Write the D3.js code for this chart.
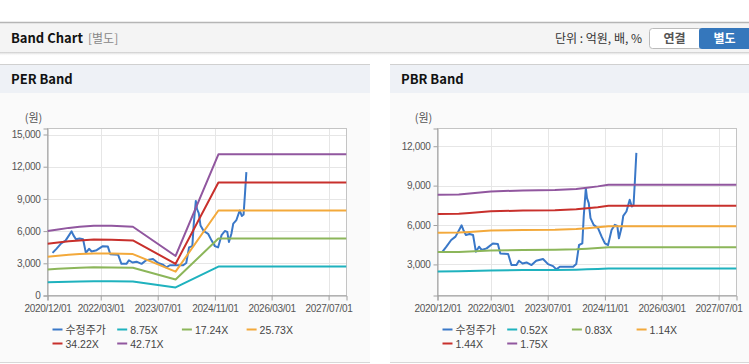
<!DOCTYPE html>
<html>
<head>
<meta charset="utf-8">
<script src="https://cdn.jsdelivr.net/npm/d3@7"></script>
<style>
    body { margin: 0; background: #fff; }
    svg { display: block; font-family: "Noto Sans CJK KR", "Noto Sans", sans-serif; }
    .tick-label { font-family: "Liberation Sans", Arial, sans-serif; font-size: 10px; fill: #555; }
</style>
</head>
<body>
<svg id="chart" width="749" height="364"></svg>
<script>
// x axis ticks, shared by both charts
const tickDates = ["2020-12-01", "2022-03-01", "2023-07-01", "2024-11-01", "2026-03-01", "2027-07-01"];
const xStart = "2020-12-01";
const xEnd = "2027-12-01";

// 수정주가 (adjusted price)
const priceDates = [
    "2021-01-13", "2021-02-15", "2021-03-28", "2021-05-04", "2021-06-04", "2021-06-25", "2021-07-10",
    "2021-08-01", "2021-09-01", "2021-10-01", "2021-10-25", "2021-11-21", "2021-12-13", "2022-01-25",
    "2022-03-19", "2022-05-01", "2022-05-22", "2022-07-28", "2022-08-25", "2022-10-07", "2022-10-28",
    "2022-11-28", "2023-01-01", "2023-02-13", "2023-03-25", "2023-05-22", "2023-07-04", "2023-08-16",
    "2023-09-13", "2023-10-13", "2023-12-07", "2024-02-04", "2024-03-01", "2024-03-25", "2024-04-22",
    "2024-05-04", "2024-05-22", "2024-06-01", "2024-06-16", "2024-07-01", "2024-07-28", "2024-09-04",
    "2024-10-04", "2024-11-01", "2024-11-28", "2024-12-28", "2025-01-25", "2025-02-15", "2025-03-01",
    "2025-03-22", "2025-04-07", "2025-05-04", "2025-06-01", "2025-06-19", "2025-07-04", "2025-07-16",
    "2025-07-28"
];
const priceValues = [
    3970, 4350, 4860, 5115, 5625, 5980, 5625,
    5245, 5320, 5245, 3970, 4350, 4100, 4220,
    4600, 4555, 3840, 3790, 2950, 2950, 3280,
    3075, 3150, 2950, 3280, 3410, 3025, 2870,
    2620, 2820, 2820, 2820, 3025, 4480, 4600,
    6650, 8810, 8050, 7670, 6520, 6010, 5750,
    5115, 4600, 4480, 5625, 6010, 5930, 4990,
    5750, 6700, 7030, 7920, 7410, 7540, 9450,
    11490
];

// PER band lines
const perDates = ["2020-12-01", "2021-03-01", "2021-06-01", "2021-09-01", "2022-01-01", "2022-06-01", "2022-12-01", "2023-12-01", "2024-12-01", "2027-12-01"];
const per875 = [1231, 1260, 1291, 1313, 1334, 1330, 1312, 754, 2694, 2694];
const per1724 = [2426, 2483, 2543, 2586, 2627, 2620, 2584, 1486, 5308, 5308];
const per2573 = [3620, 3705, 3795, 3860, 3921, 3911, 3857, 2218, 7922, 7922];
const per3422 = [4815, 4928, 5048, 5133, 5215, 5201, 5130, 2950, 10536, 10536];
const per4271 = [6009, 6150, 6300, 6407, 6509, 6492, 6402, 3682, 13150, 13150];
const perLabels = ["수정주가", "8.75X", "17.24X", "25.73X", "34.22X", "42.71X"];
const perTicks = [0, 3000, 6000, 9000, 12000, 15000];

// PBR band lines
const pbrDates = ["2020-12-01", "2021-06-01", "2021-09-01", "2022-03-01", "2022-12-01", "2023-09-01", "2024-03-01", "2024-06-01", "2024-09-01", "2024-12-01", "2027-12-01"];
const pbr052 = [2466, 2475, 2496, 2543, 2566, 2574, 2600, 2626, 2657, 2695, 2695];
const pbr083 = [3937, 3951, 3984, 4059, 4096, 4109, 4150, 4192, 4241, 4302, 4302];
const pbr114 = [5407, 5426, 5472, 5575, 5626, 5643, 5700, 5757, 5825, 5909, 5909];
const pbr144 = [6830, 6854, 6912, 7042, 7106, 7128, 7200, 7272, 7358, 7464, 7464];
const pbr175 = [8300, 8330, 8400, 8558, 8636, 8663, 8750, 8838, 8943, 9070, 9070];
const pbrLabels = ["수정주가", "0.52X", "0.83X", "1.14X", "1.44X", "1.75X"];
const pbrTicks = [3000, 6000, 9000, 12000];

const seriesColors = ["#3a78c8", "#1fb2be", "#8cb65a", "#f3a93b", "#c8302c", "#91579f"];

const parseDate = d3.timeParse("%Y-%m-%d");
const svg = d3.select("#chart");

function drawPage() {
    // top "Band Chart" bar
    const defs = svg.append("defs");
    const shadow = defs.append("linearGradient").attr("id", "shadow").attr("x1", 0).attr("x2", 0).attr("y1", 0).attr("y2", 1);
    shadow.append("stop").attr("offset", "0%").attr("stop-color", "#bbb").attr("stop-opacity", 0.8);
    shadow.append("stop").attr("offset", "100%").attr("stop-color", "#fff").attr("stop-opacity", 0);

    svg.append("rect").attr("x", 0).attr("y", 22).attr("width", 749).attr("height", 30).attr("fill", "#f4f4f4");
    svg.append("line").attr("x1", 0).attr("x2", 749).attr("y1", 22.5).attr("y2", 22.5).attr("stroke", "#b5b5b5").attr("stroke-width", 1.5);
    svg.append("rect").attr("x", 0).attr("y", 52).attr("width", 749).attr("height", 4).attr("fill", "url(#shadow)");

    svg.append("text").attr("x", 11).attr("y", 42.5)
        .style("font-size", "13px").style("font-weight", "bold").attr("fill", "#111")
        .text("Band Chart");
    svg.append("text").attr("x", 88).attr("y", 42.5)
        .style("font-size", "12px").attr("fill", "#888")
        .text("[별도]");
    svg.append("text").attr("x", 642).attr("y", 42.5).attr("text-anchor", "end")
        .style("font-size", "12px").attr("fill", "#333")
        .text("단위 : 억원, 배, %");

    // 연결 / 별도 toggle
    svg.append("rect").attr("x", 649.5).attr("y", 28.5).attr("width", 52).attr("height", 20).attr("rx", 3)
        .attr("fill", "#fff").attr("stroke", "#bbb");
    svg.append("text").attr("x", 674.5).attr("y", 42.5).attr("text-anchor", "middle")
        .style("font-size", "12px").style("font-weight", "bold").attr("fill", "#555")
        .text("연결");
    svg.append("rect").attr("x", 699).attr("y", 28).attr("width", 56).attr("height", 21).attr("rx", 3)
        .attr("fill", "#3577bc");
    svg.append("text").attr("x", 724.5).attr("y", 42.5).attr("text-anchor", "middle")
        .style("font-size", "12px").style("font-weight", "bold").attr("fill", "#fff")
        .text("별도");
}

function drawBandChart(opts) {
    // panel frame
    const g = svg.append("g");
    g.append("rect").attr("x", opts.panelX).attr("y", 64).attr("width", opts.panelW).attr("height", 299).attr("fill", "#fafafa");
    g.append("rect").attr("x", opts.panelX).attr("y", 64).attr("width", opts.panelW).attr("height", 29).attr("fill", "#eef1f6");
    g.append("line").attr("x1", opts.panelX).attr("x2", opts.panelX + opts.panelW).attr("y1", 64.5).attr("y2", 64.5).attr("stroke", "#d0d0d0");
    g.append("line").attr("x1", opts.panelX).attr("x2", opts.panelX + opts.panelW).attr("y1", 362.5).attr("y2", 362.5).attr("stroke", "#d8d8d8");
    g.append("text").attr("x", opts.panelX + 11).attr("y", 84)
        .style("font-size", "13px").style("font-weight", "bold").attr("fill", "#111")
        .text(opts.title);

    const left = opts.plotX, right = opts.plotX + 299, top = 128.5, bottom = 295.5;

    const x = d3.scaleTime()
        .domain([parseDate(xStart), parseDate(xEnd)])
        .range([left, right]);
    const y = d3.scaleLinear()
        .domain(opts.yDomain)
        .range([bottom, top]);

    g.append("rect").attr("x", left).attr("y", top).attr("width", right - left).attr("height", bottom - top).attr("fill", "#fff");

    // grid
    g.append("g").selectAll("line")
        .data(opts.yTicks.filter(d => d > opts.yDomain[0]))
        .enter().append("line")
        .attr("x1", left).attr("x2", right)
        .attr("y1", d => Math.round(y(d)) + 0.5).attr("y2", d => Math.round(y(d)) + 0.5)
        .attr("stroke", "#e6e6e6");
    g.append("g").selectAll("line")
        .data(tickDates.slice(1))
        .enter().append("line")
        .attr("x1", d => Math.round(x(parseDate(d))) + 0.5).attr("x2", d => Math.round(x(parseDate(d))) + 0.5)
        .attr("y1", top).attr("y2", bottom)
        .attr("stroke", "#e6e6e6");

    // frame
    g.append("rect").attr("x", left).attr("y", top).attr("width", right - left).attr("height", bottom - top)
        .attr("fill", "none").attr("stroke", "#c4c4c4");

    // axes
    const xAxis = d3.axisBottom(x)
        .tickValues(tickDates.map(parseDate))
        .tickFormat(d3.timeFormat("%Y/%m/%d"))
        .tickSize(5).tickPadding(4);
    const yAxis = d3.axisLeft(y)
        .tickValues(opts.yTicks)
        .tickFormat(d3.format(","))
        .tickSize(4).tickPadding(3);

    const gx = g.append("g").attr("transform", "translate(0," + bottom + ")").call(xAxis);
    const gy = g.append("g").attr("transform", "translate(" + left + ",0)").call(yAxis);
    [gx, gy].forEach(a => {
        a.select(".domain").attr("stroke", "#a0a0a0");
        a.selectAll(".tick line").attr("stroke", "#a0a0a0");
        a.selectAll(".tick text").attr("class", "tick-label").attr("fill", "#555").style("letter-spacing", "-0.3px");
    });

    g.append("text").attr("x", left - 14).attr("y", 122).attr("text-anchor", "middle")
        .style("font-size", "11px").attr("fill", "#555")
        .text("(원)");

    // series lines: price first, bands drawn on top
    const line = d3.line()
        .x(d => x(d.date))
        .y(d => y(d.value));

    const series = [
        { dates: priceDates, values: priceValues }
    ].concat(opts.bands.map(b => ({ dates: opts.bandDates, values: b })));

    const clipId = "clip-" + Math.round(opts.plotX);
    g.append("clipPath").attr("id", clipId).append("rect")
        .attr("x", left).attr("y", top).attr("width", right - left).attr("height", bottom - top);

    g.append("g").attr("clip-path", "url(#" + clipId + ")")
        .selectAll("path")
        .data(series)
        .enter().append("path")
        .attr("d", s => line(s.dates.map((d, i) => ({ date: parseDate(d), value: s.values[i] }))))
        .attr("fill", "none")
        .attr("stroke", (s, i) => seriesColors[i])
        .attr("stroke-width", 2)
        .attr("stroke-linejoin", "round");

    // legend, two rows of four columns
    const legend = g.append("g").selectAll("g")
        .data(opts.labels)
        .enter().append("g")
        .attr("transform", (d, i) => "translate(" + (left + 5 + (i % 4) * 64.7) + "," + (i < 4 ? 329.5 : 343.5) + ")");
    legend.append("line")
        .attr("x1", 0).attr("x2", 10).attr("y1", 0).attr("y2", 0)
        .attr("stroke", (d, i) => seriesColors[i]).attr("stroke-width", 2);
    legend.append("text")
        .attr("x", 13).attr("y", 4)
        .style("font-family", (d, i) => i === 0 ? "'Noto Sans CJK KR', sans-serif" : "'Liberation Sans', Arial, sans-serif")
        .style("font-size", (d, i) => i === 0 ? "11px" : "10.5px")
        .attr("fill", "#444")
        .text(d => d);
}

drawPage();

drawBandChart({
    title: "PER Band",
    panelX: 0, panelW: 370, plotX: 47.5,
    yDomain: [0, 15560], yTicks: perTicks,
    bandDates: perDates,
    bands: [per875, per1724, per2573, per3422, per4271],
    labels: perLabels
});

drawBandChart({
    title: "PBR Band",
    panelX: 390, panelW: 359, plotX: 437.5,
    yDomain: [633, 13350], yTicks: pbrTicks,
    bandDates: pbrDates,
    bands: [pbr052, pbr083, pbr114, pbr144, pbr175],
    labels: pbrLabels
});
</script>
</body>
</html>
